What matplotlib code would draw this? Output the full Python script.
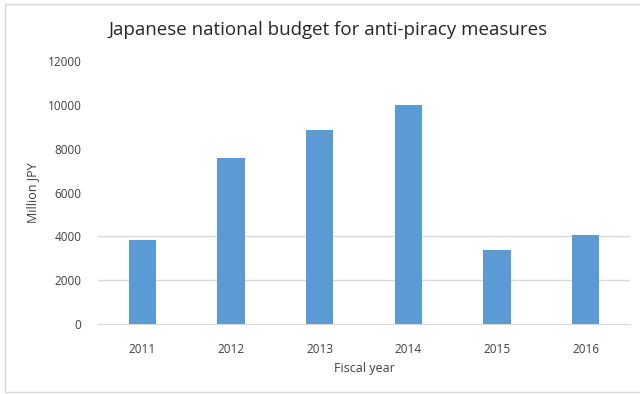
import matplotlib.pyplot as plt
from matplotlib.patches import Rectangle

# data
years = ['2011', '2012', '2013', '2014', '2015', '2016']
budget = [3830, 7590, 8870, 9980, 3360, 4060]
yticks = [0, 2000, 4000, 6000, 8000, 10000, 12000]

plt.rcParams['font.family'] = ['Open Sans', 'DejaVu Sans']

fig = plt.figure(figsize=(6.4, 3.94), dpi=100)
ax = fig.add_axes([98 / 640, 1 - 324 / 394, 532 / 640, 263 / 394])

x = range(len(years))
ax.bar(x, budget, width=0.31, color='#5b9bd5', zorder=3)

ax.set_xlim(-0.5, len(years) - 0.5)
ax.set_ylim(0, 12000)
ax.set_yticks(yticks)
ax.set_xticks(list(x))
ax.set_xticklabels(years)

# only the lower gridlines survive in the reference
for t in yticks[1:3]:
    ax.axhline(t, color='#d9d9d9', lw=1, zorder=1)

for s in ['top', 'right', 'left']:
    ax.spines[s].set_visible(False)
ax.spines['bottom'].set_color('#d9d9d9')
ax.tick_params(axis='both', length=0, labelsize=8.5, colors='#404040')
ax.tick_params(axis='x', pad=14)
ax.tick_params(axis='y', pad=12)

ax.set_ylabel('Million JPY', fontsize=9, color='#404040', labelpad=6)
ax.set_xlabel('Fiscal year', fontsize=9, color='#404040', labelpad=4)
fig.text(328 / 640, 1 - 30 / 394, 'Japanese national budget for anti-piracy measures',
         ha='center', va='center', fontsize=13.5, color='#262626')

# chart border
fig.patches.append(Rectangle((5 / 640, 1 - 392 / 394), 640, 388 / 394,
                             transform=fig.transFigure, fill=False,
                             edgecolor='#d9d9d9', lw=1))

fig.savefig('out.png', dpi=100)
